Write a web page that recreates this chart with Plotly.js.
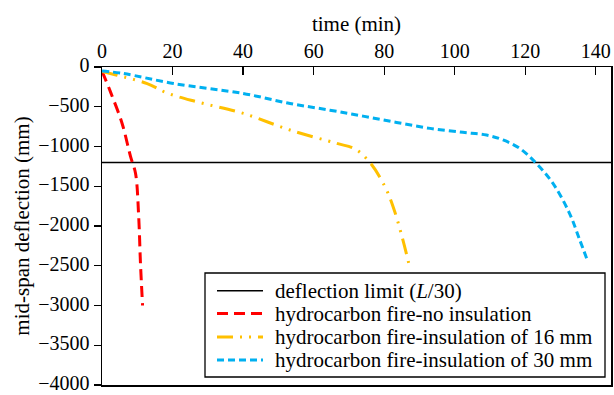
<!DOCTYPE html>
<html>
<head>
<meta charset="utf-8">
<script src="https://cdn.plot.ly/plotly-3.0.1.min.js"></script>
<style>html,body{margin:0;padding:0;background:#fff;}#chart{width:614px;height:395px;}</style>
</head>
<body>
<div id="chart"></div>
<script>
// Deflection limit (L/30)
const limitTime = [0, 145];
const limitDefl = [-1200, -1200];

// Hydrocarbon fire - no insulation
const noInsTime = [0, 2.4, 5.7, 8.1, 9.5, 10.4, 10.9, 11.5];
const noInsDefl = [-50, -313, -710, -1128, -1336, -1880, -2464, -3000];

// Hydrocarbon fire - insulation of 16 mm
const ins16Time = [0, 4.3, 12.8, 18.4, 26.9, 40.1, 53.3, 66.5, 71.7, 76, 80.2, 82.5, 84.9, 87.3];
const ins16Defl = [-55, -104, -208, -326, -438, -584, -793, -960, -1031, -1203, -1504, -1754, -2109, -2530];

// Hydrocarbon fire - insulation of 30 mm
const ins30Time = [0, 6.2, 20.3, 40, 53.3, 64.6, 74, 83.5, 93, 102.3, 109, 113.7, 118.4, 123.1, 127.8, 132.5, 135.4, 137.7];
const ins30Defl = [-50, -83, -208, -333, -459, -543, -618, -697, -772, -822, -856, -918, -1023, -1211, -1461, -1837, -2171, -2443];

const seriesNames = ['deflection limit (<i>L</i>/30)', 'hydrocarbon fire-no insulation',
                     'hydrocarbon fire-insulation of 16 mm', 'hydrocarbon fire-insulation of 30 mm'];

const xTicks = [0, 20, 40, 60, 80, 100, 120, 140];
const yTicks = [0, -500, -1000, -1500, -2000, -2500, -3000, -3500, -4000];

const fam = '"Liberation Serif", "Times New Roman", serif';
const tickFont = {family: fam, size: 20, color: '#000'};
const titleFont = {family: fam, size: 21, color: '#000'};
const legendFont = {family: fam, size: 21, color: '#000'};

const styles = [
  {color: '#000', width: 1.5, dash: 'solid'},
  {color: '#ff0000', width: 3, dash: '11px,6px'},
  {color: '#ffc000', width: 3, dash: '16px,7px,2px,7px,2px,7px'},
  {color: '#00b0f0', width: 3, dash: '7px,4px'}
];

const traces = [
  {x: limitTime, y: limitDefl, mode: 'lines', name: seriesNames[0], line: styles[0]},
  {x: noInsTime, y: noInsDefl, mode: 'lines', name: seriesNames[1], line: Object.assign({shape: 'spline'}, styles[1])},
  {x: ins16Time, y: ins16Defl, mode: 'lines', name: seriesNames[2], line: Object.assign({shape: 'spline'}, styles[2])},
  {x: ins30Time, y: ins30Defl, mode: 'lines', name: seriesNames[3], line: Object.assign({shape: 'spline'}, styles[3])}
];

// plot-area geometry (pixels) used to place the hand-drawn legend box
const W = 614, H = 395, ML = 102, MR = 3, MT = 67, MB = 10;
const px = v => (v - ML) / (W - ML - MR);
const py = v => (H - MB - v) / (H - MT - MB);

const legBox = {x0: 205, x1: 605, y0: 273, y1: 377};
const legRows = [290.7, 313.5, 337, 360];
const legLine = {x0: 217, x1: 263};
const legText = 274;

const shapes = [{type: 'rect', xref: 'paper', yref: 'paper',
  x0: px(legBox.x0), x1: px(legBox.x1), y0: py(legBox.y1), y1: py(legBox.y0),
  fillcolor: '#fff', line: {color: '#000', width: 1.3}, layer: 'above'}];
const annotations = [];
legRows.forEach((r, i) => {
  shapes.push({type: 'line', xref: 'paper', yref: 'paper',
    x0: px(legLine.x0), x1: px(legLine.x1), y0: py(r), y1: py(r),
    line: styles[i], layer: 'above'});
  annotations.push({xref: 'paper', yref: 'paper', x: px(legText), y: py(r),
    xanchor: 'left', yanchor: 'middle', text: seriesNames[i], showarrow: false,
    font: legendFont, borderpad: 0});
});

const layout = {
  width: W, height: H,
  margin: {l: ML, r: MR, t: MT, b: MB},
  paper_bgcolor: '#fff', plot_bgcolor: '#fff',
  font: tickFont,
  showlegend: false,
  shapes: shapes,
  annotations: annotations,
  xaxis: {
    side: 'top', range: [0, 144.3], tickvals: xTicks, ticktext: xTicks.map(String),
    ticks: 'inside', ticklen: 8, tickwidth: 1.2, tickcolor: '#000',
    showline: true, linecolor: '#000', linewidth: 1.5, mirror: true,
    showgrid: false, zeroline: false, ticklabeloverflow: 'allow',
    title: {text: 'time (min)', font: titleFont, standoff: 2},
    tickfont: tickFont
  },
  yaxis: {
    range: [-4000, 0], tickvals: yTicks,
    ticks: 'outside', ticklen: 7, tickwidth: 1.2, tickcolor: '#000',
    showline: true, linecolor: '#000', linewidth: 1.5, mirror: true,
    showgrid: false, zeroline: false, ticklabeloverflow: 'allow',
    ticklabelshift: -2,
    title: {text: 'mid-span deflection (mm)', font: titleFont, standoff: 3},
    tickfont: tickFont
  }
};

Plotly.newPlot('chart', traces, layout, {displayModeBar: false, staticPlot: true});
</script>
</body>
</html>
